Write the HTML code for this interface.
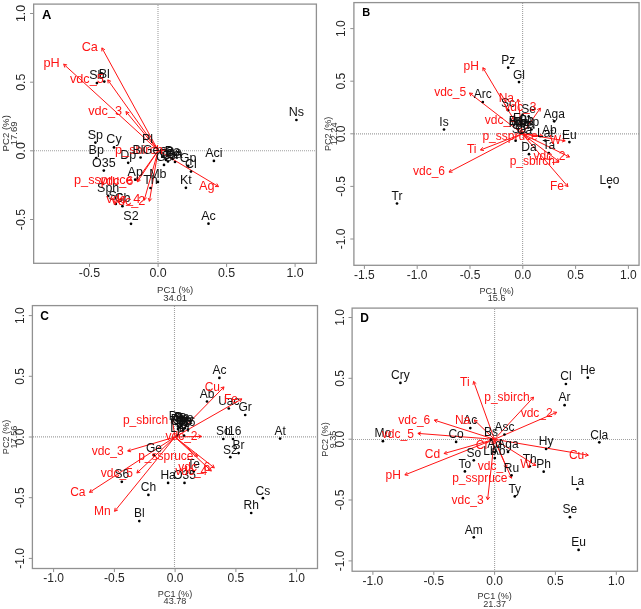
<!DOCTYPE html>
<html><head><meta charset="utf-8"><style>
html,body{margin:0;padding:0;background:#fff;}
svg{display:block;font-family:"Liberation Sans",sans-serif;will-change:transform;}
</style></head><body>
<svg width="641" height="609" viewBox="0 0 641 609">
<rect width="641" height="609" fill="#fff"/>
<line x1="158.00" y1="5.00" x2="158.00" y2="263.00" stroke="#a0a0a0" stroke-width="1.1" stroke-dasharray="1,1"/>
<line x1="34.00" y1="150.80" x2="316.00" y2="150.80" stroke="#a0a0a0" stroke-width="1.1" stroke-dasharray="1,1"/>
<rect x="33.65" y="4.10" width="282.75" height="259.20" fill="none" stroke="#919191" stroke-width="1.3"/>
<line x1="89.50" y1="263.30" x2="89.50" y2="266.90" stroke="#919191" stroke-width="1"/>
<text x="89.50" y="277.40" font-size="12.4" fill="#262626" text-anchor="middle">-0.5</text>
<line x1="158.10" y1="263.30" x2="158.10" y2="266.90" stroke="#919191" stroke-width="1"/>
<text x="158.10" y="277.40" font-size="12.4" fill="#262626" text-anchor="middle">0.0</text>
<line x1="226.60" y1="263.30" x2="226.60" y2="266.90" stroke="#919191" stroke-width="1"/>
<text x="226.60" y="277.40" font-size="12.4" fill="#262626" text-anchor="middle">0.5</text>
<line x1="295.10" y1="263.30" x2="295.10" y2="266.90" stroke="#919191" stroke-width="1"/>
<text x="295.10" y="277.40" font-size="12.4" fill="#262626" text-anchor="middle">1.0</text>
<line x1="30.05" y1="13.50" x2="33.65" y2="13.50" stroke="#919191" stroke-width="1"/>
<text x="25.20" y="13.50" font-size="12.4" fill="#262626" text-anchor="middle" transform="rotate(-90 25.20 13.50)">1.0</text>
<line x1="30.05" y1="82.20" x2="33.65" y2="82.20" stroke="#919191" stroke-width="1"/>
<text x="25.20" y="82.20" font-size="12.4" fill="#262626" text-anchor="middle" transform="rotate(-90 25.20 82.20)">0.5</text>
<line x1="30.05" y1="150.80" x2="33.65" y2="150.80" stroke="#919191" stroke-width="1"/>
<text x="25.20" y="150.80" font-size="12.4" fill="#262626" text-anchor="middle" transform="rotate(-90 25.20 150.80)">0.0</text>
<line x1="30.05" y1="219.50" x2="33.65" y2="219.50" stroke="#919191" stroke-width="1"/>
<text x="25.20" y="219.50" font-size="12.4" fill="#262626" text-anchor="middle" transform="rotate(-90 25.20 219.50)">-0.5</text>
<text x="175.20" y="292.90" font-size="9.6" fill="#333" text-anchor="middle">PC1 (%)</text>
<text x="175.20" y="300.70" font-size="9.6" fill="#333" text-anchor="middle">34.01</text>
<text x="8.80" y="133.30" font-size="9.6" fill="#333" text-anchor="middle" transform="rotate(-90 8.80 133.30)">PC2 (%)</text>
<text x="17.40" y="133.30" font-size="9.6" fill="#333" text-anchor="middle" transform="rotate(-90 17.40 133.30)">17.69</text>
<text x="42.00" y="18.80" font-size="13" fill="#000" text-anchor="start" font-weight="bold">A</text>
<line x1="158.20" y1="150.50" x2="101.90" y2="47.90" stroke="#ff1414" stroke-width="1.0"/>
<polyline points="104.89,49.72 101.90,47.90 101.82,51.40" fill="none" stroke="#ff1414" stroke-width="1.0"/>
<line x1="158.20" y1="150.50" x2="63.70" y2="64.20" stroke="#ff1414" stroke-width="1.0"/>
<polyline points="67.12,64.95 63.70,64.20 64.76,67.54" fill="none" stroke="#ff1414" stroke-width="1.0"/>
<line x1="158.20" y1="150.50" x2="107.80" y2="79.90" stroke="#ff1414" stroke-width="1.0"/>
<polyline points="110.99,81.35 107.80,79.90 108.14,83.38" fill="none" stroke="#ff1414" stroke-width="1.0"/>
<line x1="158.20" y1="150.50" x2="126.00" y2="111.60" stroke="#ff1414" stroke-width="1.0"/>
<polyline points="129.28,112.82 126.00,111.60 126.58,115.05" fill="none" stroke="#ff1414" stroke-width="1.0"/>
<line x1="158.20" y1="150.50" x2="218.50" y2="186.60" stroke="#ff1414" stroke-width="1.0"/>
<polyline points="215.00,186.54 218.50,186.60 216.80,183.54" fill="none" stroke="#ff1414" stroke-width="1.0"/>
<line x1="158.20" y1="150.50" x2="136.60" y2="180.60" stroke="#ff1414" stroke-width="1.0"/>
<polyline points="136.95,177.12 136.60,180.60 139.79,179.16" fill="none" stroke="#ff1414" stroke-width="1.0"/>
<line x1="158.20" y1="150.50" x2="137.40" y2="181.80" stroke="#ff1414" stroke-width="1.0"/>
<polyline points="137.62,178.31 137.40,181.80 140.54,180.24" fill="none" stroke="#ff1414" stroke-width="1.0"/>
<line x1="158.20" y1="150.50" x2="144.20" y2="200.20" stroke="#ff1414" stroke-width="1.0"/>
<polyline points="143.34,196.81 144.20,200.20 146.71,197.76" fill="none" stroke="#ff1414" stroke-width="1.0"/>
<line x1="158.20" y1="150.50" x2="149.40" y2="201.30" stroke="#ff1414" stroke-width="1.0"/>
<polyline points="148.19,198.01 149.40,201.30 151.64,198.61" fill="none" stroke="#ff1414" stroke-width="1.0"/>
<line x1="158.20" y1="150.50" x2="167.00" y2="150.30" stroke="#ff1414" stroke-width="1.0"/>
<polyline points="164.01,152.12 167.00,150.30 163.93,148.62" fill="none" stroke="#ff1414" stroke-width="1.0"/>
<circle cx="296.40" cy="120.00" r="1.35" fill="#000"/>
<circle cx="213.90" cy="160.90" r="1.35" fill="#000"/>
<circle cx="208.50" cy="223.70" r="1.35" fill="#000"/>
<circle cx="185.90" cy="187.80" r="1.35" fill="#000"/>
<circle cx="191.00" cy="171.60" r="1.35" fill="#000"/>
<circle cx="188.20" cy="165.80" r="1.35" fill="#000"/>
<circle cx="157.90" cy="181.90" r="1.35" fill="#000"/>
<circle cx="150.50" cy="188.00" r="1.35" fill="#000"/>
<circle cx="135.20" cy="179.70" r="1.35" fill="#000"/>
<circle cx="128.20" cy="162.80" r="1.35" fill="#000"/>
<circle cx="95.40" cy="142.60" r="1.35" fill="#000"/>
<circle cx="114.00" cy="147.40" r="1.35" fill="#000"/>
<circle cx="96.20" cy="158.00" r="1.35" fill="#000"/>
<circle cx="103.80" cy="170.60" r="1.35" fill="#000"/>
<circle cx="108.20" cy="195.90" r="1.35" fill="#000"/>
<circle cx="115.80" cy="204.00" r="1.35" fill="#000"/>
<circle cx="122.40" cy="206.20" r="1.35" fill="#000"/>
<circle cx="131.00" cy="223.80" r="1.35" fill="#000"/>
<circle cx="96.90" cy="83.10" r="1.35" fill="#000"/>
<circle cx="104.30" cy="81.60" r="1.35" fill="#000"/>
<circle cx="140.60" cy="157.50" r="1.35" fill="#000"/>
<circle cx="164.00" cy="164.90" r="1.35" fill="#000"/>
<circle cx="168.00" cy="161.50" r="1.35" fill="#000"/>
<circle cx="172.50" cy="159.00" r="1.35" fill="#000"/>
<circle cx="175.00" cy="162.00" r="1.35" fill="#000"/>
<circle cx="166.00" cy="160.00" r="1.35" fill="#000"/>
<text x="296.40" y="116.00" font-size="12.5" fill="#111" text-anchor="middle">Ns</text>
<text x="213.90" y="156.90" font-size="12.5" fill="#111" text-anchor="middle">Aci</text>
<text x="208.50" y="219.70" font-size="12.5" fill="#111" text-anchor="middle">Ac</text>
<text x="185.90" y="183.80" font-size="12.5" fill="#111" text-anchor="middle">Kt</text>
<text x="191.00" y="167.60" font-size="12.5" fill="#111" text-anchor="middle">Cl</text>
<text x="188.20" y="161.80" font-size="12.5" fill="#111" text-anchor="middle">Gp</text>
<text x="157.90" y="177.90" font-size="12.5" fill="#111" text-anchor="middle">Mb</text>
<text x="150.50" y="184.00" font-size="12.5" fill="#111" text-anchor="middle">Th</text>
<text x="135.20" y="175.70" font-size="12.5" fill="#111" text-anchor="middle">Ap</text>
<text x="128.20" y="158.80" font-size="12.5" fill="#111" text-anchor="middle">Dp</text>
<text x="95.40" y="138.60" font-size="12.5" fill="#111" text-anchor="middle">Sp</text>
<text x="114.00" y="143.40" font-size="12.5" fill="#111" text-anchor="middle">Cy</text>
<text x="96.20" y="154.00" font-size="12.5" fill="#111" text-anchor="middle">Bp</text>
<text x="103.80" y="166.60" font-size="12.5" fill="#111" text-anchor="middle">O35</text>
<text x="108.20" y="191.90" font-size="12.5" fill="#111" text-anchor="middle">Sph</text>
<text x="115.80" y="200.00" font-size="12.5" fill="#111" text-anchor="middle">Sc</text>
<text x="122.40" y="202.20" font-size="12.5" fill="#111" text-anchor="middle">Cb</text>
<text x="131.00" y="219.80" font-size="12.5" fill="#111" text-anchor="middle">S2</text>
<text x="96.90" y="79.10" font-size="12.5" fill="#111" text-anchor="middle">Sb</text>
<text x="104.30" y="77.60" font-size="12.5" fill="#111" text-anchor="middle">Bl</text>
<text x="147.50" y="143.30" font-size="12.5" fill="#111" text-anchor="middle">Pl</text>
<text x="164.00" y="160.90" font-size="12.5" fill="#111" text-anchor="middle">Gs</text>
<text x="168.00" y="157.50" font-size="12.5" fill="#111" text-anchor="middle">Da</text>
<text x="172.50" y="155.00" font-size="12.5" fill="#111" text-anchor="middle">Pa</text>
<text x="175.00" y="158.00" font-size="12.5" fill="#111" text-anchor="middle">Ba</text>
<text x="166.00" y="156.00" font-size="12.5" fill="#111" text-anchor="middle">Gr</text>
<text x="174.00" y="155.50" font-size="12.5" fill="#111" text-anchor="middle">Ba</text>
<text x="170.00" y="158.50" font-size="12.5" fill="#111" text-anchor="middle">Ca</text>
<text x="97.90" y="51.10" font-size="12.7" fill="#ff1414" text-anchor="end">Ca</text>
<text x="59.70" y="67.40" font-size="12.7" fill="#ff1414" text-anchor="end">pH</text>
<text x="103.80" y="83.10" font-size="12.7" fill="#ff1414" text-anchor="end">vdc_5</text>
<text x="122.00" y="114.80" font-size="12.7" fill="#ff1414" text-anchor="end">vdc_3</text>
<text x="214.50" y="189.80" font-size="12.7" fill="#ff1414" text-anchor="end">Ag</text>
<text x="132.60" y="183.80" font-size="12.7" fill="#ff1414" text-anchor="end">p_sspruce</text>
<text x="133.40" y="185.00" font-size="12.7" fill="#ff1414" text-anchor="end">vdc_6</text>
<text x="140.20" y="203.40" font-size="12.7" fill="#ff1414" text-anchor="end">vdc_4</text>
<text x="145.40" y="204.50" font-size="12.7" fill="#ff1414" text-anchor="end">vdc_2</text>
<text x="163.00" y="153.50" font-size="12.7" fill="#ff1414" text-anchor="end">p_sbirch</text>
<text x="138.00" y="154.40" font-size="12.5" fill="#111" text-anchor="middle">Bl</text>
<text x="151.00" y="154.40" font-size="12.5" fill="#111" text-anchor="middle">Ge</text>
<line x1="522.60" y1="3.00" x2="522.60" y2="265.00" stroke="#a0a0a0" stroke-width="1.1" stroke-dasharray="1,1"/>
<line x1="354.00" y1="133.90" x2="639.00" y2="133.90" stroke="#a0a0a0" stroke-width="1.1" stroke-dasharray="1,1"/>
<rect x="353.90" y="2.60" width="285.15" height="262.70" fill="none" stroke="#919191" stroke-width="1.3"/>
<line x1="364.40" y1="265.30" x2="364.40" y2="268.90" stroke="#919191" stroke-width="1"/>
<text x="364.40" y="278.90" font-size="12" fill="#262626" text-anchor="middle">-1.5</text>
<line x1="417.20" y1="265.30" x2="417.20" y2="268.90" stroke="#919191" stroke-width="1"/>
<text x="417.20" y="278.90" font-size="12" fill="#262626" text-anchor="middle">-1.0</text>
<line x1="470.00" y1="265.30" x2="470.00" y2="268.90" stroke="#919191" stroke-width="1"/>
<text x="470.00" y="278.90" font-size="12" fill="#262626" text-anchor="middle">-0.5</text>
<line x1="522.80" y1="265.30" x2="522.80" y2="268.90" stroke="#919191" stroke-width="1"/>
<text x="522.80" y="278.90" font-size="12" fill="#262626" text-anchor="middle">0.0</text>
<line x1="575.60" y1="265.30" x2="575.60" y2="268.90" stroke="#919191" stroke-width="1"/>
<text x="575.60" y="278.90" font-size="12" fill="#262626" text-anchor="middle">0.5</text>
<line x1="628.40" y1="265.30" x2="628.40" y2="268.90" stroke="#919191" stroke-width="1"/>
<text x="628.40" y="278.90" font-size="12" fill="#262626" text-anchor="middle">1.0</text>
<line x1="350.30" y1="28.60" x2="353.90" y2="28.60" stroke="#919191" stroke-width="1"/>
<text x="345.40" y="28.60" font-size="12" fill="#262626" text-anchor="middle" transform="rotate(-90 345.40 28.60)">1.0</text>
<line x1="350.30" y1="81.20" x2="353.90" y2="81.20" stroke="#919191" stroke-width="1"/>
<text x="345.40" y="81.20" font-size="12" fill="#262626" text-anchor="middle" transform="rotate(-90 345.40 81.20)">0.5</text>
<line x1="350.30" y1="133.80" x2="353.90" y2="133.80" stroke="#919191" stroke-width="1"/>
<text x="345.40" y="133.80" font-size="12" fill="#262626" text-anchor="middle" transform="rotate(-90 345.40 133.80)">0.0</text>
<line x1="350.30" y1="186.40" x2="353.90" y2="186.40" stroke="#919191" stroke-width="1"/>
<text x="345.40" y="186.40" font-size="12" fill="#262626" text-anchor="middle" transform="rotate(-90 345.40 186.40)">-0.5</text>
<line x1="350.30" y1="239.00" x2="353.90" y2="239.00" stroke="#919191" stroke-width="1"/>
<text x="345.40" y="239.00" font-size="12" fill="#262626" text-anchor="middle" transform="rotate(-90 345.40 239.00)">-1.0</text>
<text x="496.60" y="294.30" font-size="9.1" fill="#333" text-anchor="middle">PC1 (%)</text>
<text x="496.60" y="300.80" font-size="9.1" fill="#333" text-anchor="middle">15.6</text>
<text x="330.80" y="133.90" font-size="9.1" fill="#333" text-anchor="middle" transform="rotate(-90 330.80 133.90)">PC2 (%)</text>
<text x="337.30" y="133.90" font-size="9.1" fill="#333" text-anchor="middle" transform="rotate(-90 337.30 133.90)">12.24</text>
<text x="362.20" y="15.90" font-size="11" fill="#000" text-anchor="start" font-weight="bold">B</text>
<line x1="522.30" y1="133.80" x2="482.90" y2="67.70" stroke="#ff1414" stroke-width="1.0"/>
<polyline points="485.96,69.41 482.90,67.70 482.95,71.20" fill="none" stroke="#ff1414" stroke-width="1.0"/>
<line x1="522.30" y1="133.80" x2="469.50" y2="93.00" stroke="#ff1414" stroke-width="1.0"/>
<polyline points="472.97,93.47 469.50,93.00 470.83,96.24" fill="none" stroke="#ff1414" stroke-width="1.0"/>
<line x1="522.30" y1="133.80" x2="518.00" y2="99.20" stroke="#ff1414" stroke-width="1.0"/>
<polyline points="520.11,101.99 518.00,99.20 516.64,102.42" fill="none" stroke="#ff1414" stroke-width="1.0"/>
<line x1="522.30" y1="133.80" x2="540.40" y2="108.10" stroke="#ff1414" stroke-width="1.0"/>
<polyline points="540.09,111.59 540.40,108.10 537.22,109.57" fill="none" stroke="#ff1414" stroke-width="1.0"/>
<line x1="522.30" y1="133.80" x2="520.80" y2="121.00" stroke="#ff1414" stroke-width="1.0"/>
<polyline points="522.89,123.81 520.80,121.00 519.41,124.21" fill="none" stroke="#ff1414" stroke-width="1.0"/>
<line x1="522.30" y1="133.80" x2="542.80" y2="136.00" stroke="#ff1414" stroke-width="1.0"/>
<polyline points="539.60,137.42 542.80,136.00 539.97,133.94" fill="none" stroke="#ff1414" stroke-width="1.0"/>
<line x1="522.30" y1="133.80" x2="480.50" y2="150.00" stroke="#ff1414" stroke-width="1.0"/>
<polyline points="482.69,147.27 480.50,150.00 483.96,150.54" fill="none" stroke="#ff1414" stroke-width="1.0"/>
<line x1="522.30" y1="133.80" x2="449.00" y2="172.10" stroke="#ff1414" stroke-width="1.0"/>
<polyline points="450.88,169.15 449.00,172.10 452.50,172.25" fill="none" stroke="#ff1414" stroke-width="1.0"/>
<line x1="522.30" y1="133.80" x2="565.20" y2="140.80" stroke="#ff1414" stroke-width="1.0"/>
<polyline points="561.93,142.04 565.20,140.80 562.49,138.58" fill="none" stroke="#ff1414" stroke-width="1.0"/>
<line x1="522.30" y1="133.80" x2="569.50" y2="157.00" stroke="#ff1414" stroke-width="1.0"/>
<polyline points="566.01,157.23 569.50,157.00 567.55,154.09" fill="none" stroke="#ff1414" stroke-width="1.0"/>
<line x1="522.30" y1="133.80" x2="559.00" y2="161.50" stroke="#ff1414" stroke-width="1.0"/>
<polyline points="555.53,161.07 559.00,161.50 557.63,158.28" fill="none" stroke="#ff1414" stroke-width="1.0"/>
<line x1="522.30" y1="133.80" x2="567.90" y2="186.60" stroke="#ff1414" stroke-width="1.0"/>
<polyline points="564.59,185.45 567.90,186.60 567.24,183.16" fill="none" stroke="#ff1414" stroke-width="1.0"/>
<circle cx="508.20" cy="67.70" r="1.35" fill="#000"/>
<circle cx="519.00" cy="82.10" r="1.35" fill="#000"/>
<circle cx="482.80" cy="102.00" r="1.35" fill="#000"/>
<circle cx="444.00" cy="129.50" r="1.35" fill="#000"/>
<circle cx="397.00" cy="203.50" r="1.35" fill="#000"/>
<circle cx="609.50" cy="187.10" r="1.35" fill="#000"/>
<circle cx="554.20" cy="121.30" r="1.35" fill="#000"/>
<circle cx="569.40" cy="142.10" r="1.35" fill="#000"/>
<circle cx="545.30" cy="140.60" r="1.35" fill="#000"/>
<circle cx="548.80" cy="153.00" r="1.35" fill="#000"/>
<circle cx="529.00" cy="154.20" r="1.35" fill="#000"/>
<circle cx="508.10" cy="110.20" r="1.35" fill="#000"/>
<circle cx="528.70" cy="116.60" r="1.35" fill="#000"/>
<circle cx="522.60" cy="114.90" r="1.35" fill="#000"/>
<circle cx="531.50" cy="129.50" r="1.35" fill="#000"/>
<circle cx="515.60" cy="140.70" r="1.35" fill="#000"/>
<text x="508.20" y="64.10" font-size="12" fill="#111" text-anchor="middle">Pz</text>
<text x="519.00" y="78.50" font-size="12" fill="#111" text-anchor="middle">Gl</text>
<text x="482.80" y="98.40" font-size="12" fill="#111" text-anchor="middle">Arc</text>
<text x="444.00" y="125.90" font-size="12" fill="#111" text-anchor="middle">Is</text>
<text x="397.00" y="199.90" font-size="12" fill="#111" text-anchor="middle">Tr</text>
<text x="609.50" y="183.50" font-size="12" fill="#111" text-anchor="middle">Leo</text>
<text x="554.20" y="117.70" font-size="12" fill="#111" text-anchor="middle">Aga</text>
<text x="569.40" y="138.50" font-size="12" fill="#111" text-anchor="middle">Eu</text>
<text x="549.30" y="134.30" font-size="12" fill="#111" text-anchor="middle">Ab</text>
<text x="545.30" y="137.00" font-size="12" fill="#111" text-anchor="middle">Lat</text>
<text x="548.80" y="149.40" font-size="12" fill="#111" text-anchor="middle">Ta</text>
<text x="529.00" y="150.60" font-size="12" fill="#111" text-anchor="middle">Da</text>
<text x="508.10" y="106.60" font-size="12" fill="#111" text-anchor="middle">Sc</text>
<text x="528.70" y="113.00" font-size="12" fill="#111" text-anchor="middle">Se</text>
<text x="531.50" y="125.90" font-size="12" fill="#111" text-anchor="middle">Hp</text>
<text x="478.90" y="70.00" font-size="12" fill="#ff1414" text-anchor="end">pH</text>
<text x="466.20" y="96.00" font-size="12" fill="#ff1414" text-anchor="end">vdc_5</text>
<text x="514.00" y="101.80" font-size="12" fill="#ff1414" text-anchor="end">Na</text>
<text x="536.40" y="111.40" font-size="12" fill="#ff1414" text-anchor="end">vdc_3</text>
<text x="516.80" y="124.30" font-size="12" fill="#ff1414" text-anchor="end">vdc_4</text>
<text x="537.80" y="140.10" font-size="12" fill="#ff1414" text-anchor="end">p_sspruce</text>
<text x="476.50" y="153.30" font-size="12" fill="#ff1414" text-anchor="end">Ti</text>
<text x="445.00" y="175.40" font-size="12" fill="#ff1414" text-anchor="end">vdc_6</text>
<text x="561.20" y="144.10" font-size="12" fill="#ff1414" text-anchor="end">W</text>
<text x="565.50" y="160.30" font-size="12" fill="#ff1414" text-anchor="end">vdc_2</text>
<text x="555.00" y="164.80" font-size="12" fill="#ff1414" text-anchor="end">p_sbirch</text>
<text x="563.90" y="189.90" font-size="12" fill="#ff1414" text-anchor="end">Fe</text>
<text x="520.00" y="122.40" font-size="12" fill="#111" text-anchor="middle">Fp</text>
<text x="517.00" y="127.40" font-size="12" fill="#111" text-anchor="middle">Mn</text>
<text x="522.00" y="129.40" font-size="12" fill="#111" text-anchor="middle">Ba</text>
<text x="527.00" y="128.40" font-size="12" fill="#111" text-anchor="middle">Pa</text>
<text x="519.00" y="132.90" font-size="12" fill="#111" text-anchor="middle">Sa</text>
<text x="524.50" y="133.90" font-size="12" fill="#111" text-anchor="middle">Ca</text>
<text x="516.00" y="124.90" font-size="12" fill="#111" text-anchor="middle">Bo</text>
<text x="526.00" y="124.40" font-size="12" fill="#111" text-anchor="middle">Gb</text>
<text x="521.00" y="126.40" font-size="12" fill="#111" text-anchor="middle">Ma</text>
<line x1="174.50" y1="306.00" x2="174.50" y2="568.00" stroke="#a0a0a0" stroke-width="1.1" stroke-dasharray="1,1"/>
<line x1="33.00" y1="436.90" x2="317.00" y2="436.90" stroke="#a0a0a0" stroke-width="1.1" stroke-dasharray="1,1"/>
<rect x="32.40" y="305.60" width="285.10" height="262.90" fill="none" stroke="#919191" stroke-width="1.3"/>
<line x1="53.60" y1="568.50" x2="53.60" y2="572.10" stroke="#919191" stroke-width="1"/>
<text x="53.60" y="582.30" font-size="12" fill="#262626" text-anchor="middle">-1.0</text>
<line x1="114.40" y1="568.50" x2="114.40" y2="572.10" stroke="#919191" stroke-width="1"/>
<text x="114.40" y="582.30" font-size="12" fill="#262626" text-anchor="middle">-0.5</text>
<line x1="175.10" y1="568.50" x2="175.10" y2="572.10" stroke="#919191" stroke-width="1"/>
<text x="175.10" y="582.30" font-size="12" fill="#262626" text-anchor="middle">0.0</text>
<line x1="235.90" y1="568.50" x2="235.90" y2="572.10" stroke="#919191" stroke-width="1"/>
<text x="235.90" y="582.30" font-size="12" fill="#262626" text-anchor="middle">0.5</text>
<line x1="296.60" y1="568.50" x2="296.60" y2="572.10" stroke="#919191" stroke-width="1"/>
<text x="296.60" y="582.30" font-size="12" fill="#262626" text-anchor="middle">1.0</text>
<line x1="28.80" y1="315.60" x2="32.40" y2="315.60" stroke="#919191" stroke-width="1"/>
<text x="23.80" y="315.60" font-size="12" fill="#262626" text-anchor="middle" transform="rotate(-90 23.80 315.60)">1.0</text>
<line x1="28.80" y1="376.30" x2="32.40" y2="376.30" stroke="#919191" stroke-width="1"/>
<text x="23.80" y="376.30" font-size="12" fill="#262626" text-anchor="middle" transform="rotate(-90 23.80 376.30)">0.5</text>
<line x1="28.80" y1="437.00" x2="32.40" y2="437.00" stroke="#919191" stroke-width="1"/>
<text x="23.80" y="437.00" font-size="12" fill="#262626" text-anchor="middle" transform="rotate(-90 23.80 437.00)">0.0</text>
<line x1="28.80" y1="497.70" x2="32.40" y2="497.70" stroke="#919191" stroke-width="1"/>
<text x="23.80" y="497.70" font-size="12" fill="#262626" text-anchor="middle" transform="rotate(-90 23.80 497.70)">-0.5</text>
<line x1="28.80" y1="558.40" x2="32.40" y2="558.40" stroke="#919191" stroke-width="1"/>
<text x="23.80" y="558.40" font-size="12" fill="#262626" text-anchor="middle" transform="rotate(-90 23.80 558.40)">-1.0</text>
<text x="175.00" y="596.60" font-size="9.1" fill="#333" text-anchor="middle">PC1 (%)</text>
<text x="175.00" y="604.00" font-size="9.1" fill="#333" text-anchor="middle">43.78</text>
<text x="8.60" y="437.00" font-size="9.1" fill="#333" text-anchor="middle" transform="rotate(-90 8.60 437.00)">PC2 (%)</text>
<text x="16.50" y="437.00" font-size="9.1" fill="#333" text-anchor="middle" transform="rotate(-90 16.50 437.00)">17.56</text>
<text x="40.30" y="319.70" font-size="12" fill="#000" text-anchor="start" font-weight="bold">C</text>
<line x1="175.00" y1="437.00" x2="224.00" y2="386.90" stroke="#ff1414" stroke-width="1.0"/>
<polyline points="223.13,390.29 224.00,386.90 220.63,387.84" fill="none" stroke="#ff1414" stroke-width="1.0"/>
<line x1="175.00" y1="437.00" x2="241.90" y2="398.90" stroke="#ff1414" stroke-width="1.0"/>
<polyline points="240.13,401.92 241.90,398.90 238.40,398.88" fill="none" stroke="#ff1414" stroke-width="1.0"/>
<line x1="175.00" y1="437.00" x2="201.50" y2="436.40" stroke="#ff1414" stroke-width="1.0"/>
<polyline points="198.51,438.22 201.50,436.40 198.43,434.72" fill="none" stroke="#ff1414" stroke-width="1.0"/>
<line x1="175.00" y1="437.00" x2="127.70" y2="451.00" stroke="#ff1414" stroke-width="1.0"/>
<polyline points="130.11,448.46 127.70,451.00 131.10,451.82" fill="none" stroke="#ff1414" stroke-width="1.0"/>
<line x1="175.00" y1="437.00" x2="136.90" y2="473.00" stroke="#ff1414" stroke-width="1.0"/>
<polyline points="137.90,469.65 136.90,473.00 140.31,472.19" fill="none" stroke="#ff1414" stroke-width="1.0"/>
<line x1="175.00" y1="437.00" x2="89.50" y2="492.30" stroke="#ff1414" stroke-width="1.0"/>
<polyline points="91.09,489.18 89.50,492.30 93.00,492.12" fill="none" stroke="#ff1414" stroke-width="1.0"/>
<line x1="175.00" y1="437.00" x2="114.60" y2="511.30" stroke="#ff1414" stroke-width="1.0"/>
<polyline points="115.15,507.84 114.60,511.30 117.87,510.05" fill="none" stroke="#ff1414" stroke-width="1.0"/>
<line x1="175.00" y1="437.00" x2="214.30" y2="467.80" stroke="#ff1414" stroke-width="1.0"/>
<polyline points="210.83,467.31 214.30,467.80 212.99,464.55" fill="none" stroke="#ff1414" stroke-width="1.0"/>
<line x1="175.00" y1="437.00" x2="211.30" y2="471.00" stroke="#ff1414" stroke-width="1.0"/>
<polyline points="207.89,470.21 211.30,471.00 210.28,467.65" fill="none" stroke="#ff1414" stroke-width="1.0"/>
<line x1="175.00" y1="437.00" x2="197.50" y2="456.40" stroke="#ff1414" stroke-width="1.0"/>
<polyline points="194.06,455.75 197.50,456.40 196.35,453.10" fill="none" stroke="#ff1414" stroke-width="1.0"/>
<line x1="175.00" y1="437.00" x2="172.30" y2="419.90" stroke="#ff1414" stroke-width="1.0"/>
<polyline points="174.50,422.62 172.30,419.90 171.04,423.17" fill="none" stroke="#ff1414" stroke-width="1.0"/>
<circle cx="219.40" cy="377.90" r="1.35" fill="#000"/>
<circle cx="207.00" cy="401.50" r="1.35" fill="#000"/>
<circle cx="228.80" cy="408.50" r="1.35" fill="#000"/>
<circle cx="245.20" cy="415.00" r="1.35" fill="#000"/>
<circle cx="280.10" cy="438.60" r="1.35" fill="#000"/>
<circle cx="223.30" cy="439.00" r="1.35" fill="#000"/>
<circle cx="233.00" cy="439.00" r="1.35" fill="#000"/>
<circle cx="238.60" cy="453.10" r="1.35" fill="#000"/>
<circle cx="230.30" cy="457.20" r="1.35" fill="#000"/>
<circle cx="262.90" cy="498.20" r="1.35" fill="#000"/>
<circle cx="251.20" cy="513.00" r="1.35" fill="#000"/>
<circle cx="148.40" cy="494.90" r="1.35" fill="#000"/>
<circle cx="139.30" cy="521.10" r="1.35" fill="#000"/>
<circle cx="121.80" cy="481.80" r="1.35" fill="#000"/>
<circle cx="153.90" cy="455.30" r="1.35" fill="#000"/>
<circle cx="168.10" cy="482.90" r="1.35" fill="#000"/>
<circle cx="184.50" cy="482.90" r="1.35" fill="#000"/>
<circle cx="193.70" cy="471.60" r="1.35" fill="#000"/>
<circle cx="176.00" cy="424.10" r="1.35" fill="#000"/>
<circle cx="181.00" cy="426.10" r="1.35" fill="#000"/>
<circle cx="186.00" cy="425.60" r="1.35" fill="#000"/>
<circle cx="188.00" cy="429.60" r="1.35" fill="#000"/>
<circle cx="178.00" cy="429.10" r="1.35" fill="#000"/>
<circle cx="183.00" cy="430.60" r="1.35" fill="#000"/>
<circle cx="180.00" cy="427.60" r="1.35" fill="#000"/>
<circle cx="184.00" cy="428.60" r="1.35" fill="#000"/>
<circle cx="178.00" cy="426.60" r="1.35" fill="#000"/>
<circle cx="185.00" cy="428.10" r="1.35" fill="#000"/>
<circle cx="182.00" cy="424.60" r="1.35" fill="#000"/>
<circle cx="177.00" cy="435.50" r="1.35" fill="#000"/>
<circle cx="184.00" cy="435.50" r="1.35" fill="#000"/>
<text x="219.40" y="374.20" font-size="12" fill="#111" text-anchor="middle">Ac</text>
<text x="207.00" y="397.80" font-size="12" fill="#111" text-anchor="middle">Ab</text>
<text x="228.80" y="404.80" font-size="12" fill="#111" text-anchor="middle">Uac</text>
<text x="245.20" y="411.30" font-size="12" fill="#111" text-anchor="middle">Gr</text>
<text x="280.10" y="434.90" font-size="12" fill="#111" text-anchor="middle">At</text>
<text x="223.30" y="435.30" font-size="12" fill="#111" text-anchor="middle">So</text>
<text x="233.00" y="435.30" font-size="12" fill="#111" text-anchor="middle">I16</text>
<text x="238.60" y="449.40" font-size="12" fill="#111" text-anchor="middle">Br</text>
<text x="230.30" y="453.50" font-size="12" fill="#111" text-anchor="middle">S2</text>
<text x="262.90" y="494.50" font-size="12" fill="#111" text-anchor="middle">Cs</text>
<text x="251.20" y="509.30" font-size="12" fill="#111" text-anchor="middle">Rh</text>
<text x="148.40" y="491.20" font-size="12" fill="#111" text-anchor="middle">Ch</text>
<text x="139.30" y="517.40" font-size="12" fill="#111" text-anchor="middle">Bl</text>
<text x="121.80" y="478.10" font-size="12" fill="#111" text-anchor="middle">S6</text>
<text x="153.90" y="451.60" font-size="12" fill="#111" text-anchor="middle">Ge</text>
<text x="168.10" y="479.20" font-size="12" fill="#111" text-anchor="middle">Ha</text>
<text x="184.50" y="479.20" font-size="12" fill="#111" text-anchor="middle">O35</text>
<text x="193.70" y="467.90" font-size="12" fill="#111" text-anchor="middle">Te</text>
<text x="176.00" y="420.40" font-size="12" fill="#111" text-anchor="middle">Pa</text>
<text x="181.00" y="422.40" font-size="12" fill="#111" text-anchor="middle">Gs</text>
<text x="186.00" y="421.90" font-size="12" fill="#111" text-anchor="middle">Bo</text>
<text x="188.00" y="425.90" font-size="12" fill="#111" text-anchor="middle">S6</text>
<text x="178.00" y="425.40" font-size="12" fill="#111" text-anchor="middle">Cb</text>
<text x="183.00" y="426.90" font-size="12" fill="#111" text-anchor="middle">Pc</text>
<text x="180.00" y="423.90" font-size="12" fill="#111" text-anchor="middle">Ca</text>
<text x="184.00" y="424.90" font-size="12" fill="#111" text-anchor="middle">Gb</text>
<text x="178.00" y="422.90" font-size="12" fill="#111" text-anchor="middle">Pb</text>
<text x="185.00" y="424.40" font-size="12" fill="#111" text-anchor="middle">Sa</text>
<text x="182.00" y="420.90" font-size="12" fill="#111" text-anchor="middle">Ba</text>
<text x="177.00" y="431.80" font-size="12" fill="#111" text-anchor="middle">Lp</text>
<text x="184.00" y="431.80" font-size="12" fill="#111" text-anchor="middle">Pl</text>
<text x="220.00" y="390.50" font-size="12" fill="#ff1414" text-anchor="end">Cu</text>
<text x="237.90" y="402.50" font-size="12" fill="#ff1414" text-anchor="end">Fe</text>
<text x="197.50" y="440.00" font-size="12" fill="#ff1414" text-anchor="end">vdc_2</text>
<text x="123.70" y="454.60" font-size="12" fill="#ff1414" text-anchor="end">vdc_3</text>
<text x="132.90" y="476.60" font-size="12" fill="#ff1414" text-anchor="end">vdc_5</text>
<text x="85.50" y="495.90" font-size="12" fill="#ff1414" text-anchor="end">Ca</text>
<text x="110.60" y="514.90" font-size="12" fill="#ff1414" text-anchor="end">Mn</text>
<text x="210.30" y="471.40" font-size="12" fill="#ff1414" text-anchor="end">vdc_6</text>
<text x="207.30" y="474.60" font-size="12" fill="#ff1414" text-anchor="end">vdc_4</text>
<text x="193.50" y="460.00" font-size="12" fill="#ff1414" text-anchor="end">p_sspruce</text>
<text x="168.30" y="423.50" font-size="12" fill="#ff1414" text-anchor="end">p_sbirch</text>
<line x1="494.60" y1="309.00" x2="494.60" y2="571.00" stroke="#a0a0a0" stroke-width="1.1" stroke-dasharray="1,1"/>
<line x1="353.00" y1="439.50" x2="637.00" y2="439.50" stroke="#a0a0a0" stroke-width="1.1" stroke-dasharray="1,1"/>
<rect x="352.10" y="308.10" width="285.35" height="263.15" fill="none" stroke="#919191" stroke-width="1.3"/>
<line x1="372.90" y1="571.25" x2="372.90" y2="574.85" stroke="#919191" stroke-width="1"/>
<text x="372.90" y="585.00" font-size="12" fill="#262626" text-anchor="middle">-1.0</text>
<line x1="433.80" y1="571.25" x2="433.80" y2="574.85" stroke="#919191" stroke-width="1"/>
<text x="433.80" y="585.00" font-size="12" fill="#262626" text-anchor="middle">-0.5</text>
<line x1="494.60" y1="571.25" x2="494.60" y2="574.85" stroke="#919191" stroke-width="1"/>
<text x="494.60" y="585.00" font-size="12" fill="#262626" text-anchor="middle">0.0</text>
<line x1="555.40" y1="571.25" x2="555.40" y2="574.85" stroke="#919191" stroke-width="1"/>
<text x="555.40" y="585.00" font-size="12" fill="#262626" text-anchor="middle">0.5</text>
<line x1="616.30" y1="571.25" x2="616.30" y2="574.85" stroke="#919191" stroke-width="1"/>
<text x="616.30" y="585.00" font-size="12" fill="#262626" text-anchor="middle">1.0</text>
<line x1="348.50" y1="317.50" x2="352.10" y2="317.50" stroke="#919191" stroke-width="1"/>
<text x="343.60" y="317.50" font-size="12" fill="#262626" text-anchor="middle" transform="rotate(-90 343.60 317.50)">1.0</text>
<line x1="348.50" y1="378.30" x2="352.10" y2="378.30" stroke="#919191" stroke-width="1"/>
<text x="343.60" y="378.30" font-size="12" fill="#262626" text-anchor="middle" transform="rotate(-90 343.60 378.30)">0.5</text>
<line x1="348.50" y1="439.20" x2="352.10" y2="439.20" stroke="#919191" stroke-width="1"/>
<text x="343.60" y="439.20" font-size="12" fill="#262626" text-anchor="middle" transform="rotate(-90 343.60 439.20)">0.0</text>
<line x1="348.50" y1="500.00" x2="352.10" y2="500.00" stroke="#919191" stroke-width="1"/>
<text x="343.60" y="500.00" font-size="12" fill="#262626" text-anchor="middle" transform="rotate(-90 343.60 500.00)">-0.5</text>
<line x1="348.50" y1="560.90" x2="352.10" y2="560.90" stroke="#919191" stroke-width="1"/>
<text x="343.60" y="560.90" font-size="12" fill="#262626" text-anchor="middle" transform="rotate(-90 343.60 560.90)">-1.0</text>
<text x="494.70" y="599.30" font-size="9.1" fill="#333" text-anchor="middle">PC1 (%)</text>
<text x="494.70" y="607.10" font-size="9.1" fill="#333" text-anchor="middle">21.37</text>
<text x="328.40" y="439.50" font-size="9.1" fill="#333" text-anchor="middle" transform="rotate(-90 328.40 439.50)">PC2 (%)</text>
<text x="336.20" y="439.50" font-size="9.1" fill="#333" text-anchor="middle" transform="rotate(-90 336.20 439.50)">9.35</text>
<text x="360.30" y="321.90" font-size="12" fill="#000" text-anchor="start" font-weight="bold">D</text>
<line x1="494.40" y1="439.30" x2="473.60" y2="381.40" stroke="#ff1414" stroke-width="1.0"/>
<polyline points="476.27,383.66 473.60,381.40 472.98,384.84" fill="none" stroke="#ff1414" stroke-width="1.0"/>
<line x1="494.40" y1="439.30" x2="533.60" y2="397.10" stroke="#ff1414" stroke-width="1.0"/>
<polyline points="532.82,400.51 533.60,397.10 530.25,398.13" fill="none" stroke="#ff1414" stroke-width="1.0"/>
<line x1="494.40" y1="439.30" x2="556.70" y2="412.30" stroke="#ff1414" stroke-width="1.0"/>
<polyline points="554.61,415.11 556.70,412.30 553.22,411.90" fill="none" stroke="#ff1414" stroke-width="1.0"/>
<line x1="494.40" y1="439.30" x2="434.30" y2="420.10" stroke="#ff1414" stroke-width="1.0"/>
<polyline points="437.72,419.36 434.30,420.10 436.65,422.69" fill="none" stroke="#ff1414" stroke-width="1.0"/>
<line x1="494.40" y1="439.30" x2="474.30" y2="420.00" stroke="#ff1414" stroke-width="1.0"/>
<polyline points="477.70,420.84 474.30,420.00 475.27,423.36" fill="none" stroke="#ff1414" stroke-width="1.0"/>
<line x1="494.40" y1="439.30" x2="417.90" y2="433.40" stroke="#ff1414" stroke-width="1.0"/>
<polyline points="421.06,431.89 417.90,433.40 420.79,435.38" fill="none" stroke="#ff1414" stroke-width="1.0"/>
<line x1="494.40" y1="439.30" x2="444.10" y2="453.50" stroke="#ff1414" stroke-width="1.0"/>
<polyline points="446.54,450.99 444.10,453.50 447.49,454.36" fill="none" stroke="#ff1414" stroke-width="1.0"/>
<line x1="494.40" y1="439.30" x2="404.90" y2="474.90" stroke="#ff1414" stroke-width="1.0"/>
<polyline points="407.07,472.15 404.90,474.90 408.36,475.41" fill="none" stroke="#ff1414" stroke-width="1.0"/>
<line x1="494.40" y1="439.30" x2="487.60" y2="499.80" stroke="#ff1414" stroke-width="1.0"/>
<polyline points="486.20,496.59 487.60,499.80 489.68,496.98" fill="none" stroke="#ff1414" stroke-width="1.0"/>
<line x1="494.40" y1="439.30" x2="588.30" y2="455.20" stroke="#ff1414" stroke-width="1.0"/>
<polyline points="585.02,456.42 588.30,455.20 585.60,452.97" fill="none" stroke="#ff1414" stroke-width="1.0"/>
<line x1="494.40" y1="439.30" x2="535.80" y2="465.50" stroke="#ff1414" stroke-width="1.0"/>
<polyline points="532.30,465.36 535.80,465.50 534.17,462.40" fill="none" stroke="#ff1414" stroke-width="1.0"/>
<line x1="494.40" y1="439.30" x2="506.60" y2="467.80" stroke="#ff1414" stroke-width="1.0"/>
<polyline points="503.80,465.70 506.60,467.80 507.02,464.32" fill="none" stroke="#ff1414" stroke-width="1.0"/>
<line x1="494.40" y1="439.30" x2="511.50" y2="478.20" stroke="#ff1414" stroke-width="1.0"/>
<polyline points="508.68,476.13 511.50,478.20 511.88,474.72" fill="none" stroke="#ff1414" stroke-width="1.0"/>
<line x1="494.40" y1="439.30" x2="492.50" y2="445.00" stroke="#ff1414" stroke-width="1.0"/>
<polyline points="491.80,441.57 492.50,445.00 495.12,442.68" fill="none" stroke="#ff1414" stroke-width="1.0"/>
<circle cx="400.40" cy="382.90" r="1.35" fill="#000"/>
<circle cx="382.90" cy="441.20" r="1.35" fill="#000"/>
<circle cx="456.10" cy="441.90" r="1.35" fill="#000"/>
<circle cx="470.30" cy="428.10" r="1.35" fill="#000"/>
<circle cx="473.80" cy="460.30" r="1.35" fill="#000"/>
<circle cx="464.90" cy="471.40" r="1.35" fill="#000"/>
<circle cx="473.80" cy="537.30" r="1.35" fill="#000"/>
<circle cx="514.80" cy="496.40" r="1.35" fill="#000"/>
<circle cx="511.50" cy="475.30" r="1.35" fill="#000"/>
<circle cx="543.70" cy="471.70" r="1.35" fill="#000"/>
<circle cx="529.70" cy="466.30" r="1.35" fill="#000"/>
<circle cx="546.10" cy="449.00" r="1.35" fill="#000"/>
<circle cx="599.30" cy="442.30" r="1.35" fill="#000"/>
<circle cx="577.50" cy="489.00" r="1.35" fill="#000"/>
<circle cx="569.90" cy="517.20" r="1.35" fill="#000"/>
<circle cx="578.60" cy="549.90" r="1.35" fill="#000"/>
<circle cx="587.80" cy="377.70" r="1.35" fill="#000"/>
<circle cx="565.90" cy="384.00" r="1.35" fill="#000"/>
<circle cx="564.60" cy="405.20" r="1.35" fill="#000"/>
<circle cx="504.50" cy="434.50" r="1.35" fill="#000"/>
<circle cx="491.00" cy="439.60" r="1.35" fill="#000"/>
<circle cx="508.00" cy="452.00" r="1.35" fill="#000"/>
<circle cx="494.50" cy="452.00" r="1.35" fill="#000"/>
<circle cx="494.80" cy="458.10" r="1.35" fill="#000"/>
<text x="400.40" y="379.10" font-size="12" fill="#111" text-anchor="middle">Cry</text>
<text x="382.90" y="437.40" font-size="12" fill="#111" text-anchor="middle">Mo</text>
<text x="456.10" y="438.10" font-size="12" fill="#111" text-anchor="middle">Co</text>
<text x="470.30" y="424.30" font-size="12" fill="#111" text-anchor="middle">Ac</text>
<text x="473.80" y="456.50" font-size="12" fill="#111" text-anchor="middle">So</text>
<text x="464.90" y="467.60" font-size="12" fill="#111" text-anchor="middle">To</text>
<text x="473.80" y="533.50" font-size="12" fill="#111" text-anchor="middle">Am</text>
<text x="514.80" y="492.60" font-size="12" fill="#111" text-anchor="middle">Ty</text>
<text x="511.50" y="471.50" font-size="12" fill="#111" text-anchor="middle">Ru</text>
<text x="543.70" y="467.90" font-size="12" fill="#111" text-anchor="middle">Ph</text>
<text x="529.70" y="462.50" font-size="12" fill="#111" text-anchor="middle">Th</text>
<text x="546.10" y="445.20" font-size="12" fill="#111" text-anchor="middle">Hy</text>
<text x="599.30" y="438.50" font-size="12" fill="#111" text-anchor="middle">Cla</text>
<text x="577.50" y="485.20" font-size="12" fill="#111" text-anchor="middle">La</text>
<text x="569.90" y="513.40" font-size="12" fill="#111" text-anchor="middle">Se</text>
<text x="578.60" y="546.10" font-size="12" fill="#111" text-anchor="middle">Eu</text>
<text x="587.80" y="373.90" font-size="12" fill="#111" text-anchor="middle">He</text>
<text x="565.90" y="380.20" font-size="12" fill="#111" text-anchor="middle">Cl</text>
<text x="564.60" y="401.40" font-size="12" fill="#111" text-anchor="middle">Ar</text>
<text x="504.50" y="430.70" font-size="12" fill="#111" text-anchor="middle">Asc</text>
<text x="491.00" y="435.80" font-size="12" fill="#111" text-anchor="middle">Bs</text>
<text x="508.00" y="448.20" font-size="12" fill="#111" text-anchor="middle">Aga</text>
<text x="494.50" y="448.20" font-size="12" fill="#111" text-anchor="middle">Ad</text>
<text x="490.00" y="454.70" font-size="12" fill="#111" text-anchor="middle">Lb</text>
<text x="498.00" y="454.70" font-size="12" fill="#111" text-anchor="middle">Ab</text>
<text x="469.60" y="385.60" font-size="12" fill="#ff1414" text-anchor="end">Ti</text>
<text x="529.60" y="401.30" font-size="12" fill="#ff1414" text-anchor="end">p_sbirch</text>
<text x="552.70" y="416.50" font-size="12" fill="#ff1414" text-anchor="end">vdc_2</text>
<text x="430.30" y="424.30" font-size="12" fill="#ff1414" text-anchor="end">vdc_6</text>
<text x="470.30" y="424.20" font-size="12" fill="#ff1414" text-anchor="end">Na</text>
<text x="413.90" y="437.60" font-size="12" fill="#ff1414" text-anchor="end">vdc_5</text>
<text x="440.10" y="457.70" font-size="12" fill="#ff1414" text-anchor="end">Cd</text>
<text x="400.90" y="479.10" font-size="12" fill="#ff1414" text-anchor="end">pH</text>
<text x="483.60" y="504.00" font-size="12" fill="#ff1414" text-anchor="end">vdc_3</text>
<text x="584.30" y="459.40" font-size="12" fill="#ff1414" text-anchor="end">Cu</text>
<text x="531.60" y="467.70" font-size="12" fill="#ff1414" text-anchor="end">W</text>
<text x="503.20" y="470.30" font-size="12" fill="#ff1414" text-anchor="end">vdc_</text>
<text x="507.50" y="482.40" font-size="12" fill="#ff1414" text-anchor="end">p_sspruce</text>
<text x="488.50" y="449.20" font-size="12" fill="#ff1414" text-anchor="end">Cr</text>
</svg>
</body></html>
